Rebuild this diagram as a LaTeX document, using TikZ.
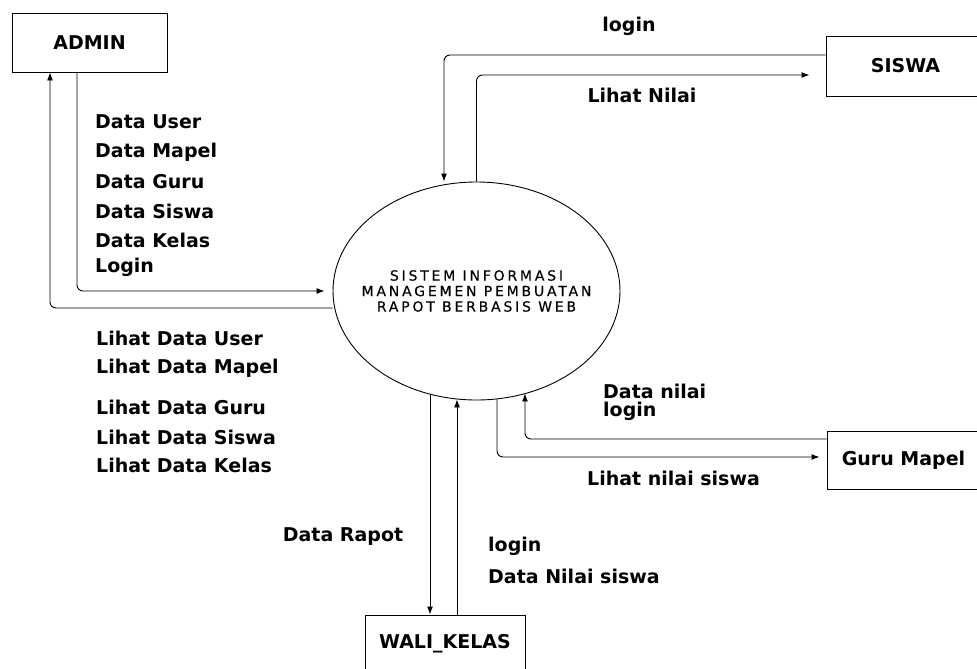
\documentclass[tikz,border=0pt]{standalone}
\usepackage{fontspec}
\setmainfont{DejaVu Sans}
\usetikzlibrary{arrows.meta,shapes.geometric}

\begin{document}
\begin{tikzpicture}[x=1pt,y=-1pt,
  entity/.style={draw,rectangle,line width=0.9pt,inner sep=0pt,font=\fontsize{19}{22}\selectfont\bfseries},
  proc/.style={draw,ellipse,line width=0.9pt,inner sep=0pt},
  ptext/.style={align=center,inner sep=0pt,font=\fontsize{14}{15.5}\selectfont\addfontfeature{LetterSpace=20,FakeBold=0.4}},
  flow/.style={line width=0.9pt,rounded corners=6pt,-{Latex[length=8pt,width=6pt]}},
  lbl/.style={inner sep=0pt,font=\fontsize{19}{22}\selectfont\bfseries}]
\useasboundingbox (0,0) rectangle (977,669);
\clip (0,0) rectangle (977,669);
% external entities and the process
\node[entity,minimum width=155pt,minimum height=59pt] (admin) at (89.5,42.5) {ADMIN};
\node[entity,minimum width=159pt,minimum height=60pt] (siswa) at (905.5,66) {SISWA};
\node[entity,minimum width=153pt,minimum height=58pt] (guru) at (903.5,460) {Guru Mapel};
\node[entity,minimum width=160pt,minimum height=57pt] (wali) at (445,643.5) {WALI\_KELAS};
\node[proc,minimum width=287pt,minimum height=218pt] (sys) at (476.5,291) {};
\node[ptext] (systxt) at (sys) {SISTEM INFORMASI\\MANAGEMEN PEMBUATAN\\RAPOT BERBASIS WEB};
% admin
\draw[flow] ([xshift=-12.5pt]admin.south) |- ([xshift=-8pt]sys.west);
\draw[flow] ([yshift=-17pt]sys.west) -| ([xshift=-39.5pt]admin.south);
\foreach \y/\t in {122/Data User,152/Data Mapel,182/Data Guru,211/Data Siswa,240/Data Kelas,267/Login}
  \node[lbl,anchor=west] (in-\y) at (95,\y) {\t};
\foreach \y/\t in {338/Lihat Data User,368/Lihat Data Mapel,407/Lihat Data Guru,437/Lihat Data Siswa,465/Lihat Data Kelas}
  \node[lbl,anchor=west] (out-\y) at (96,\y) {\t};
% siswa
\draw[flow] ([yshift=11pt]siswa.west) -| ([xshift=-32.5pt]sys.north);
\draw[flow] (sys.north) |- ([xshift=-16pt,yshift=-9pt]siswa.west);
\node[lbl] (slogin) at (629,26) {login};
\node[lbl] (snilai) at (642,95) {Lihat Nilai};
% guru mapel
\draw[flow] ([yshift=21pt]guru.west) -| ([xshift=48.5pt,yshift=7pt]sys.south);
\draw[flow] ([xshift=20.5pt,yshift=1pt]sys.south) |- ([xshift=-7pt,yshift=3pt]guru.west);
\node[lbl,anchor=west] (gdata) at (603,391) {Data nilai};
\node[lbl,anchor=west] (glogin) at (603,411) {login};
\node[lbl,anchor=west] (gnilai) at (587,478) {Lihat nilai siswa};
% wali kelas
\draw[flow] ([xshift=-46.5pt,yshift=6pt]sys.south) -- ([xshift=-15pt]wali.north);
\draw[flow] ([xshift=12pt]wali.north) -- ([xshift=-19.5pt,yshift=1pt]sys.south);
\node[lbl] (wrapot) at (343,537) {Data Rapot};
\node[lbl,anchor=west] (wlogin) at (488,546) {login};
\node[lbl,anchor=west] (wnilai) at (488,576) {Data Nilai siswa};
\end{tikzpicture}
\end{document}
